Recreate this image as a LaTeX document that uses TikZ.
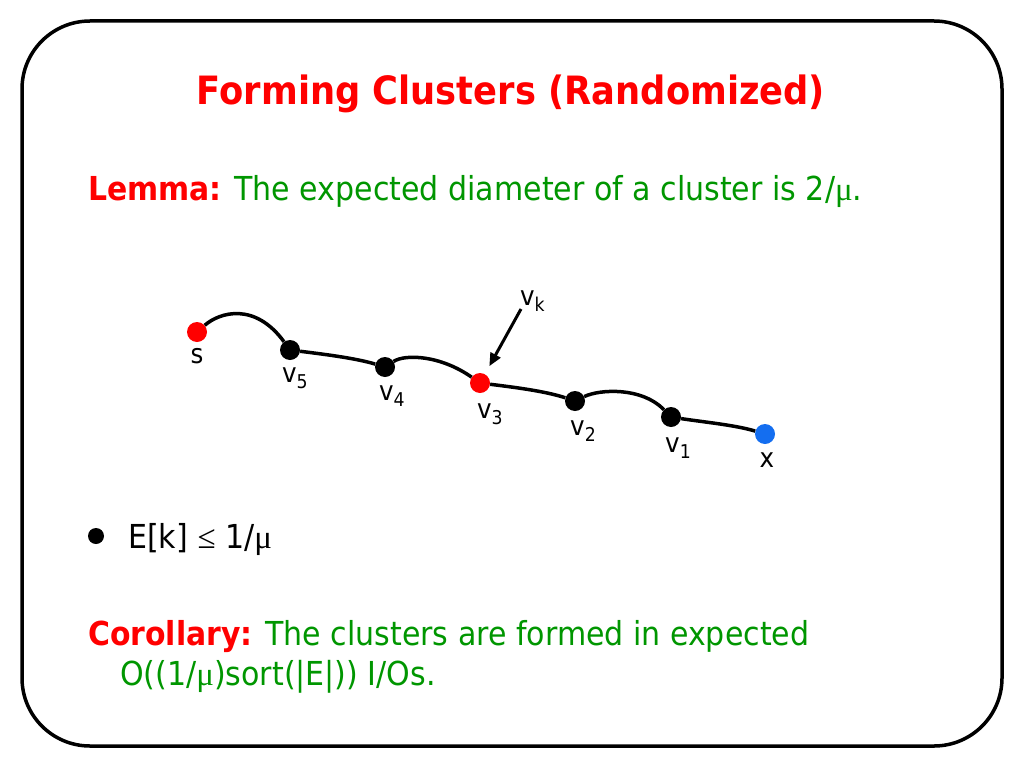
\documentclass[tikz,border=0pt]{standalone}
\usepackage{fontspec}
\setmainfont{DejaVu Sans}[FakeStretch=0.91,BoldFeatures={FakeStretch=0.905}]
\newfontfamily\symf{Liberation Serif}
\usetikzlibrary{arrows.meta}
\definecolor{tgreen}{RGB}{0,150,0}
\definecolor{tred}{RGB}{255,0,0}
\definecolor{tblue}{RGB}{20,110,240}
\newcommand\lsub[1]{\raisebox{-6pt}{\fontsize{19}{19}\selectfont #1}}
\begin{document}
\begin{tikzpicture}[x=1pt,y=-1pt,
  vert/.style={circle,fill=black,inner sep=0pt,minimum size=20pt},
  redv/.style={vert,fill=tred},
  bluev/.style={vert,fill=tblue},
  lab/.style={anchor=base west,inner sep=0pt,font=\fontsize{27}{27}\selectfont},
  edge/.style={line width=3.5pt},
  body/.style={anchor=base west,inner sep=0pt,font=\fontsize{33}{33}\selectfont,text=tgreen}]
\useasboundingbox (0,0) rectangle (1024,768);
\draw[line width=3.5pt,rounded corners=68pt] (22,21) rectangle (1002,746);
\node[anchor=base,inner sep=0pt,text=tred,font=\fontsize{39}{39}\selectfont\bfseries] (title) at (511,104) {Forming Clusters (Randomized)};
\node[body] (lemma) at (88,200) {{\bfseries\color{tred}Lemma:} The expected diameter of a cluster is 2/{\symf μ}.};
% graph
\node[redv] (s) at (197,332) {};
\node[vert] (v5) at (290,350) {};
\node[vert] (v4) at (385,367) {};
\node[redv] (v3) at (480,383) {};
\node[vert] (v2) at (575,401) {};
\node[vert] (v1) at (671,417) {};
\node[bluev] (x) at (765,434) {};
\draw[edge] (s) .. controls (220,312) and (255,302) .. (v5);
\draw[edge] (v5) .. controls (322,354) and (355,358) .. (v4);
\draw[edge] (v4) .. controls (405,354) and (440,355) .. (v3);
\draw[edge] (v3) .. controls (512,387) and (545,391) .. (v2);
\draw[edge] (v2) .. controls (600,389) and (642,387) .. (v1);
\draw[edge] (v1) .. controls (703,422) and (735,425) .. (x);
\node[anchor=base,inner sep=0pt,font=\fontsize{27}{27}\selectfont] (ls) at (197,363) {s};
\node[lab] (l5) at (282,382) {v\lsub{5}};
\node[lab] (l4) at (379,400) {v\lsub{4}};
\node[lab] (l3) at (477,418) {v\lsub{3}};
\node[lab] (l2) at (570,435) {v\lsub{2}};
\node[lab] (l1) at (665,452) {v\lsub{1}};
\node[anchor=base,inner sep=0pt,font=\fontsize{27}{27}\selectfont] (lx) at (767,467) {x};
\node[lab] (lk) at (520,305) {v\lsub{k}};
\coordinate (kt) at (521,309);
\draw[line width=3pt,-{Triangle[length=13pt,width=11pt]},shorten >=9pt] (kt) -- (v3);
% bullet
\node[circle,fill=black,inner sep=0pt,minimum size=16pt] (bul) at (96,536) {};
\node[anchor=base west,inner sep=0pt,font=\fontsize{33}{33}\selectfont] (ek) at (128,548) {E[k] {\symf ≤} 1/{\symf μ}};
\node[body] (cor1) at (88,645) {{\bfseries\color{tred}Corollary:} The clusters are formed in expected};
\node[body] (cor2) at (120,685) {O((1/{\symf μ})sort(|E|)) I/Os.};
\end{tikzpicture}
\end{document}
